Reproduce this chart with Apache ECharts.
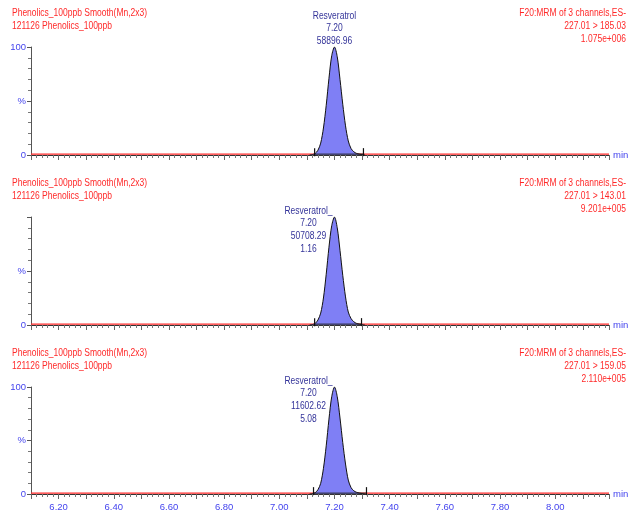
<!DOCTYPE html>
<html>
<head>
<meta charset="utf-8">
<script src="https://cdn.jsdelivr.net/npm/echarts@6/dist/echarts.min.js"></script>
<style>
  html, body { margin: 0; padding: 0; background: #fff; }
  #chart { width: 637px; height: 515px; }
</style>
</head>
<body>
<div id="chart"></div>
<script>
// Retention time window (min)
var timeMin = 6.10;
var timeMax = 8.195;

// Sampled retention times across the Resveratrol peak (min)
var peakTimes = [7.11, 7.12, 7.13, 7.14, 7.15, 7.16, 7.17, 7.18, 7.19, 7.20,
                 7.21, 7.22, 7.23, 7.24, 7.25, 7.26, 7.27, 7.28, 7.29, 7.30, 7.31];

// Relative intensity (%) for each MRM transition
var trace1 = [0, 0.4, 1.4, 4.4, 11, 25, 46, 71, 92, 100, 91, 70, 47, 27, 13, 6, 3, 1.5, 0.8, 0.3, 0];
var trace2 = [0, 0.4, 1.5, 4.6, 11, 25, 47, 72, 92, 100, 90, 69, 46, 26, 12, 6, 3, 1.5, 0.8, 0.3, 0];
var trace3 = [0, 0.3, 1.2, 4.0, 10, 24, 45, 70, 91, 100, 91, 71, 48, 28, 13, 6, 3, 1.6, 0.9, 0.4, 0];

// Integration limits (min)
var integ1 = [7.128, 7.305];
var integ2 = [7.128, 7.298];
var integ3 = [7.124, 7.316];

// Header texts
var leftHeader = ['Phenolics_100ppb Smooth(Mn,2x3)', '121126 Phenolics_100ppb'];
var channelTitle = 'F20:MRM of 3 channels,ES-';
var transitions = ['227.01 > 185.03', '227.01 > 143.01', '227.01 > 159.05'];
var maxIntensity = ['1.075e+006', '9.201e+005', '2.110e+005'];

// Peak annotations
var peakName = 'Resveratrol';
var peakRT = 7.20;
var peakHeight = 100;
var peakArea = ['58896.96', '50708.29', '11602.62'];
var peakSN = [null, '1.16', '5.08'];

// Y tick labels
var yTickLabels = { 0: '0', 50: '%', 100: '100' };

var traces = [trace1, trace2, trace3];
var integs = [integ1, integ2, integ3];
var gridTops = [47, 217, 387];
var gridHeights = [108, 108, 107];

var FONT = '"Liberation Sans", Arial, sans-serif';
var RED = '#ff2a2a';
var BLUE = '#4444ee';
var NAVY = '#333399';
var SQUEEZE = 0.85;   // horizontal condensing of annotation text

var grids = [], xAxes = [], yAxes = [], series = [], graphics = [];

for (var i = 0; i < 3; i++) {
  grids.push({ left: 31, right: 28, top: gridTops[i], height: gridHeights[i] });

  xAxes.push({
    gridIndex: i, type: 'value', min: timeMin, max: timeMax, interval: 0.1,
    axisLine: { show: true, lineStyle: { color: '#333', width: 1 } },
    axisTick: { show: true, length: 5, lineStyle: { color: '#666' } },
    minorTick: { show: true, splitNumber: 5, length: 3, lineStyle: { color: '#777' } },
    splitLine: { show: false },
    name: 'min', nameLocation: 'end', nameGap: 4,
    nameTextStyle: { color: BLUE, fontSize: 9.5, fontFamily: FONT, verticalAlign: 'middle' },
    axisLabel: {
      show: i === 2, color: BLUE, fontSize: 9.5, fontFamily: FONT, margin: 8,
      showMinLabel: false, showMaxLabel: false,
      formatter: function (v) {
        var k = Math.round(v * 10);
        return k % 2 === 0 ? (k / 10).toFixed(2) : '';
      }
    }
  });

  (function (idx) {
    yAxes.push({
      gridIndex: idx, type: 'value', min: 0, max: 100, interval: 50,
      axisLine: { show: true, lineStyle: { color: '#555', width: 1 } },
      axisTick: { show: true, length: 4, lineStyle: { color: '#555' } },
      minorTick: { show: true, splitNumber: 5, length: 3, lineStyle: { color: '#777' } },
      splitLine: { show: false },
      axisLabel: {
        color: BLUE, fontSize: 9.5, fontFamily: FONT, margin: 5,
        formatter: function (v) {
          if (idx === 1 && v === 100) return '';
          return yTickLabels[v];
        }
      }
    });
  })(i);

  // Red chromatogram baseline across the full window
  series.push({
    type: 'line', xAxisIndex: i, yAxisIndex: i, silent: true, symbol: 'none',
    data: [[timeMin, 0.8], [timeMax, 0.8]],
    lineStyle: { color: RED, width: 1.3 }, z: 3
  });

  // Integrated peak (filled)
  var pts = [];
  for (var j = 0; j < peakTimes.length; j++) pts.push([peakTimes[j], traces[i][j]]);
  series.push({
    type: 'line', xAxisIndex: i, yAxisIndex: i, silent: true, symbol: 'none',
    smooth: 0.3, data: pts,
    lineStyle: { color: '#111', width: 1 },
    areaStyle: { color: '#7f7ff5', opacity: 1 }, z: 4
  });

  // Integration baseline with end markers
  series.push({
    type: 'line', xAxisIndex: i, yAxisIndex: i, silent: true,
    data: [[integs[i][0], 0.8], [integs[i][1], 0.8]],
    symbol: 'rect', symbolSize: [1.2, 8], symbolOffset: [0, -2],
    itemStyle: { color: '#111' },
    lineStyle: { color: '#222', width: 1 }, z: 5
  });

  // Header texts
  var ty = i * 170;
  graphics.push({ type: 'text', x: 12, y: ty + 7, scaleX: SQUEEZE,
    style: { text: leftHeader[0] + '\n' + leftHeader[1], fill: RED, font: '10px ' + FONT,
      lineHeight: 13, align: 'left', verticalAlign: 'top' } });
  graphics.push({ type: 'text', x: 626, y: ty + 7, scaleX: SQUEEZE,
    style: { text: channelTitle + '\n' + transitions[i] + '\n' + maxIntensity[i], fill: RED,
      font: '10px ' + FONT, lineHeight: 13, align: 'right', verticalAlign: 'top' } });
}

var chart = echarts.init(document.getElementById('chart'), null, { renderer: 'canvas' });
chart.setOption({
  animation: false,
  backgroundColor: '#fff',
  grid: grids, xAxis: xAxes, yAxis: yAxes, series: series, graphic: graphics
});

// Peak annotations anchored at each apex: centred above it in the first trace,
// to the upper left with a leader in the others
for (var p = 0; p < 3; p++) {
  var apex = chart.convertToPixel({ gridIndex: p }, [peakRT, peakHeight]);
  if (p === 0) {
    graphics.push({ type: 'text', x: apex[0], y: apex[1] + 0.5, scaleX: SQUEEZE,
      style: { text: peakName + '\n' + peakRT.toFixed(2) + '\n' + peakArea[p], fill: NAVY,
        font: '10px ' + FONT, lineHeight: 12.6, align: 'center', verticalAlign: 'bottom' } });
  } else {
    graphics.push({ type: 'text', x: apex[0] - 26, y: apex[1] - 12.6, scaleX: SQUEEZE,
      style: { text: peakName + '_\n' + peakRT.toFixed(2) + '\n' + peakArea[p] + '\n' + peakSN[p],
        fill: NAVY, font: '10px ' + FONT, lineHeight: 12.7, align: 'center', verticalAlign: 'top' } });
  }
}
chart.setOption({ graphic: graphics });
</script>
</body>
</html>
